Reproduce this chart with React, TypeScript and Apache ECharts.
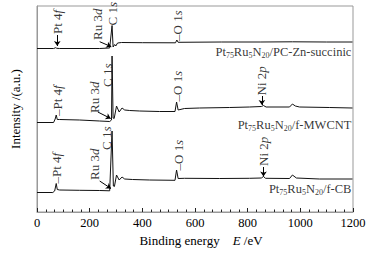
import React, { useEffect, useRef } from "react";
import * as echarts from "echarts";

// Binding energy (eV) and intensity (a.u., arbitrary offset)
const energyCB = [0, 60, 67, 73, 77, 86, 162, 238, 276, 285, 290, 294, 302, 312, 323, 333, 363, 428, 524, 530, 536, 560, 693, 807, 852, 860, 868, 959, 970, 985, 1073, 1198];
const intensityCB = [19.5, 19.5, 21, 28.5, 22.5, 22, 21.7, 21.5, 21.2, 81, 26, 25.5, 37, 32, 35, 33, 32.5, 32, 31.7, 42, 33.5, 33.7, 33.5, 33.7, 34, 35.5, 33.7, 33.5, 37, 34, 33, 33];

const energyMWCNT = [0, 63, 69, 73, 77, 86, 162, 238, 276, 283, 285, 289, 293, 302, 312, 323, 333, 352, 390, 465, 524, 530, 536, 560, 617, 731, 807, 852, 860, 870, 959, 970, 981, 997, 1110, 1198];
const intensityMWCNT = [89.5, 89.5, 93, 97, 92.5, 92.5, 92, 91, 90.5, 92, 156, 94, 93.5, 106, 100, 104, 102, 101.5, 101, 100.5, 100.5, 110, 102, 103.5, 104, 104.5, 105, 105.5, 106.5, 105, 105, 108, 106, 105, 104.5, 104];

const energyZn = [0, 63, 71, 75, 86, 238, 276, 285, 289, 295, 299, 306, 321, 400, 526, 531, 536, 700, 850, 970, 1100, 1198];
const intensityZn = [163.5, 163.5, 164.3, 163.7, 163.5, 163.5, 164, 186.5, 165, 167.5, 166, 169, 169.5, 169.3, 169.2, 172, 169.7, 170, 170, 170.2, 170, 170];

// Peak annotations: label, energy, level (bottom end of the rotated text)
const peakText = [
  "Pt 4{i|f}", "Ru 3{i|d}", "C 1{i|s}", "–O 1{i|s}",
  "–Pt 4{i|f}", "Ru 3{i|d}", "C 1{i|s}", "–O 1{i|s}", "Ni 2{i|p}",
  "–Pt 4{i|f}", "Ru 3{i|d}", "C 1{i|s}", "–O 1{i|s}", "Ni 2{i|p}",
];
const peakEnergy = [77, 228, 287, 535, 77, 217, 266, 534, 854, 75, 219, 265, 538, 860];
const peakLevel = [178, 172, 186.5, 171, 96, 99, 125, 110.5, 116.5, 28.5, 32, 62, 41.5, 46];

// Pointer arrows (Ru 3d diagonals, Pt 4f and Ni 2p verticals)
const arrowStartEnergy = [238, 231, 238, 77, 854, 860];
const arrowStartLevel = [170.3, 100, 31, 177, 116, 45];
const arrowEndEnergy = [282, 280, 281, 77, 854, 860];
const arrowEndLevel = [165.3, 93.5, 23.5, 166, 107, 35.5];

// Sample names
const sampleNames = [
  "Pt{s|75}Ru{s|5}N{s|20}/PC-Zn-succinic",
  "Pt{s|75}Ru{s|5}N{s|20}/f-MWCNT",
  "Pt{s|75}Ru{s|5}N{s|20}/f-CB",
];
const sampleEnergy = [1194, 1194, 1194];
const sampleLevel = [160, 87, 23];

const FONT = "'Liberation Serif', 'Times New Roman', serif";
const INK = "#000";

export default function App() {
  const ref = useRef<HTMLDivElement>(null);
  useEffect(() => {
    if (!ref.current) return;
    const chart = echarts.init(ref.current, undefined, { renderer: "svg" });
    const zip = (xs: number[], ys: number[]) => xs.map((x, i) => [x, ys[i]]);
    const lineSeries = (name: string, xs: number[], ys: number[]) => ({
      name,
      type: "line",
      data: zip(xs, ys),
      showSymbol: false,
      symbol: "none",
      lineStyle: { color: "#111", width: 1 },
      silent: true,
    });
    const peakRich = {
      i: { fontFamily: FONT, fontSize: 13, fontStyle: "italic", color: INK },
    };
    const nameRich = {
      s: { fontFamily: FONT, fontSize: 8, color: INK, verticalAlign: "bottom", lineHeight: 15 },
    };
    const annotations = [
      ...peakText.map((t, i) => ({
        value: [peakEnergy[i], peakLevel[i]],
        label: {
          show: true,
          formatter: t,
          position: [0, 0],
          align: "left",
          verticalAlign: "middle",
          rotate: 90,
          fontFamily: FONT,
          fontSize: 13,
          color: INK,
          rich: peakRich,
        },
      })),
      ...sampleNames.map((t, i) => ({
        value: [sampleEnergy[i], sampleLevel[i]],
        label: {
          show: true,
          formatter: t,
          position: [0, 0],
          align: "right",
          verticalAlign: "middle",
          fontFamily: FONT,
          fontSize: 12.5,
          lineHeight: 15,
          color: INK,
          rich: nameRich,
        },
      })),
    ];
    chart.setOption({
      animation: false,
      textStyle: { fontFamily: FONT },
      grid: { left: 37, right: 22, top: 6, bottom: 44, show: true, borderColor: "#999", borderWidth: 1 },
      xAxis: {
        type: "value",
        min: 0,
        max: 1200,
        interval: 200,
        name: "Binding energy    {i|E} /eV",
        nameLocation: "middle",
        nameGap: 22,
        nameTextStyle: {
          fontFamily: FONT,
          fontSize: 13,
          color: INK,
          padding: [0, 0, 0, 12],
          rich: { i: { fontFamily: FONT, fontSize: 13, fontStyle: "italic", color: INK } },
        },
        axisLine: { show: true, lineStyle: { color: "#999", width: 1 } },
        axisTick: { show: true, inside: true, length: 4, lineStyle: { color: "#222" } },
        minorTick: { show: true, splitNumber: 6, length: 2.5, lineStyle: { color: "#222" } },
        axisLabel: { fontFamily: FONT, fontSize: 12.5, color: INK, margin: 4, formatter: (v: number) => String(v) },
        splitLine: { show: false },
      },
      yAxis: {
        type: "value",
        min: 0,
        max: 206,
        name: "Intensity /(a.u.)",
        nameLocation: "middle",
        nameGap: 15,
        nameTextStyle: { fontFamily: FONT, fontSize: 13, color: INK },
        axisLine: { show: true, lineStyle: { color: "#999", width: 1 } },
        axisTick: { show: false },
        axisLabel: { show: false },
        splitLine: { show: false },
      },
      series: [
        lineSeries("Pt75Ru5N20/PC-Zn-succinic", energyZn, intensityZn),
        lineSeries("Pt75Ru5N20/f-MWCNT", energyMWCNT, intensityMWCNT),
        lineSeries("Pt75Ru5N20/f-CB", energyCB, intensityCB),
        {
          name: "annotations",
          type: "scatter",
          symbolSize: 0,
          silent: true,
          itemStyle: { color: "transparent" },
          data: annotations,
          markLine: {
            silent: true,
            symbol: ["none", "arrow"],
            symbolSize: 5,
            label: { show: false },
            lineStyle: { color: "#000", width: 1, type: "solid" },
            data: arrowStartEnergy.map((x, i) => [
              { coord: [x, arrowStartLevel[i]] },
              { coord: [arrowEndEnergy[i], arrowEndLevel[i]] },
            ]),
          },
        },
      ],
    });
    return () => chart.dispose();
  }, []);
  return (
    <div
      ref={ref}
      style={{ position: "fixed", left: 0, top: 0, width: 375, height: 256, background: "#fff" }}
    />
  );
}
